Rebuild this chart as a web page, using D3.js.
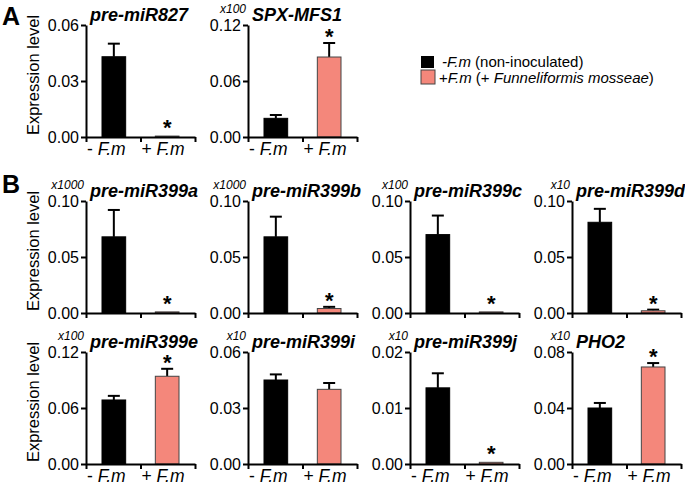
<!DOCTYPE html>
<html>
<head>
<meta charset="utf-8">
<script src="https://cdn.jsdelivr.net/npm/d3@7"></script>
<style>
  body { margin: 0; background: #fff; }
  svg { font-family: "Liberation Sans", Arial, sans-serif; }
</style>
</head>
<body>
<svg width="685" height="486"></svg>
<script>
// values
const genes = ["pre-miR827", "SPX-MFS1", "pre-miR399a", "pre-miR399b", "pre-miR399c",
  "pre-miR399d", "pre-miR399e", "pre-miR399i", "pre-miR399j", "PHO2"];
const multipliers = ["", "x100", "x1000", "x1000", "x100", "x10", "x100", "x10", "x10", "x10"];
const yMax = [0.06, 0.12, 0.10, 0.10, 0.10, 0.10, 0.12, 0.06, 0.02, 0.08];
const meanControl = [0.043, 0.020, 0.068, 0.068, 0.070, 0.081, 0.0686, 0.045, 0.0136, 0.040];
const errControl = [0.007, 0.0036, 0.024, 0.018, 0.017, 0.012, 0.0044, 0.003, 0.0026, 0.0036];
const meanInoc = [0.0005, 0.0857, 0.001, 0.004, 0.001, 0.002, 0.094, 0.040, 0.0003, 0.0693];
const errInoc = [0, 0.015, 0, 0.0015, 0, 0.001, 0.008, 0.0034, 0, 0.0028];
const significant = [true, true, true, true, true, true, true, false, true, true];
const conditions = ["-", "+"];

const svg = d3.select("svg");
const colX = [86, 248, 410, 572];
const rowTop = [25, 201, 352];
const plotH = 112, plotW = 109;
const colors = ["#000000", "#f4877b"];

// which grid cell each chart sits in
const cell = i => i < 2 ? { row: 0, col: i } : { row: 1 + Math.floor((i - 2) / 4), col: (i - 2) % 4 };

genes.forEach((gene, i) => {
  const { row, col } = cell(i);
  const g = svg.append("g").attr("transform", `translate(${colX[col]},${rowTop[row]})`);

  const y = d3.scaleLinear().domain([0, yMax[i]]).range([plotH, 0]);
  const x = d3.scaleBand().domain(conditions).range([0, plotW])
    .paddingInner(0.556).paddingOuter(0.3);
  const xTick = d3.scaleLinear().domain([0, 2]).range([0, plotW]);

  const vals = [
    { c: "-", m: meanControl[i], e: errControl[i] },
    { c: "+", m: meanInoc[i], e: errInoc[i] }
  ];

  // error bars (upper only)
  const eb = g.selectAll(".err").data(vals).enter().append("g");
  eb.append("line")
    .attr("x1", d => x(d.c) + x.bandwidth() / 2).attr("x2", d => x(d.c) + x.bandwidth() / 2)
    .attr("y1", d => y(d.m)).attr("y2", d => y(d.m + d.e))
    .attr("stroke", "#000").attr("stroke-width", 2);
  eb.filter(d => d.e > 0).append("line")
    .attr("x1", d => x(d.c) + x.bandwidth() / 2 - 6).attr("x2", d => x(d.c) + x.bandwidth() / 2 + 6)
    .attr("y1", d => y(d.m + d.e)).attr("y2", d => y(d.m + d.e))
    .attr("stroke", "#000").attr("stroke-width", 2);

  g.selectAll(".bar").data(vals).enter().append("rect")
    .attr("x", d => x(d.c)).attr("width", x.bandwidth())
    .attr("y", d => y(d.m)).attr("height", d => plotH - y(d.m))
    .attr("fill", (d, k) => colors[k])
    .attr("stroke", (d, k) => k ? "#444" : "#000").attr("stroke-width", 1);

  if (significant[i]) {
    const d = vals[1];
    g.append("text")
      .attr("x", x(d.c) + x.bandwidth() / 2)
      .attr("y", y(d.m + d.e) + (d.e > 0 ? 1 : -1))
      .attr("text-anchor", "middle").attr("font-size", 22).attr("font-weight", "bold")
      .text("*");
  }

  // axes
  const ya = g.append("g").call(d3.axisLeft(y).tickValues([0, yMax[i] / 2, yMax[i]])
    .tickFormat(d3.format(".2f")).tickSize(5).tickSizeOuter(0).tickPadding(2));
  ya.select(".domain").attr("stroke-width", 2);
  ya.selectAll(".tick line").attr("stroke-width", 2);
  ya.selectAll("text").attr("font-size", 16).attr("font-family", "Liberation Sans, Arial, sans-serif");

  const xa = g.append("g").attr("transform", `translate(0,${plotH})`)
    .call(d3.axisBottom(xTick).tickValues([0, 1, 2]).tickFormat("").tickSize(5).tickSizeOuter(0));
  xa.select(".domain").attr("stroke-width", 2);
  xa.selectAll(".tick line").attr("stroke-width", 2);

  if (row !== 1) {
    conditions.forEach((c, k) => {
      const t = g.append("text").attr("x", xTick(k) + 1).attr("y", plotH + 18).attr("font-size", 17.5);
      t.append("tspan").text(c + " ");
      t.append("tspan").attr("font-style", "italic").text("F.m");
    });
  }

  g.append("text").attr("x", 4).attr("y", -4)
    .attr("font-size", 18).attr("font-weight", "bold").attr("font-style", "italic")
    .text(gene);

  if (multipliers[i]) {
    g.append("text").attr("x", -2).attr("y", -12).attr("text-anchor", "end")
      .attr("font-size", 12).attr("font-style", "italic").text(multipliers[i]);
  }

  if (col === 0) {
    g.append("text")
      .attr("transform", `translate(-47,${plotH / 2 - 6}) rotate(-90)`)
      .attr("text-anchor", "middle").attr("font-size", 16.5)
      .text("Expression level");
  }
});

// panel letters
svg.append("text").attr("x", 2).attr("y", 25).attr("font-size", 25).attr("font-weight", "bold").text("A");
svg.append("text").attr("x", 2).attr("y", 193).attr("font-size", 25).attr("font-weight", "bold").text("B");

// legend
const legend = svg.append("g").attr("transform", "translate(421,56)");
legend.append("rect").attr("x", 0).attr("y", 0).attr("width", 13).attr("height", 12).attr("fill", colors[0]);
legend.append("rect").attr("x", 0).attr("y", 14).attr("width", 14).attr("height", 14)
  .attr("fill", colors[1]).attr("stroke", "#444").attr("stroke-width", 1);
const l1 = legend.append("text").attr("x", 21).attr("y", 11).attr("font-size", 15);
l1.append("tspan").attr("font-style", "italic").text("-F.m");
l1.append("tspan").text(" (non-inoculated)");
const l2 = legend.append("text").attr("x", 18).attr("y", 27).attr("font-size", 15);
l2.append("tspan").text("+");
l2.append("tspan").attr("font-style", "italic").text("F.m");
l2.append("tspan").text(" (+ ");
l2.append("tspan").attr("font-style", "italic").text("Funneliformis mosseae");
l2.append("tspan").text(")");
</script>
</body>
</html>
